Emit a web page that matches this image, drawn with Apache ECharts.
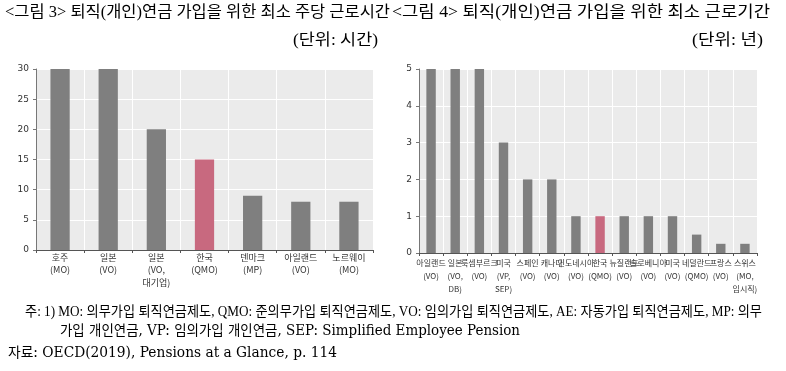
<!DOCTYPE html>
<html><head><meta charset="utf-8">
<script src="https://cdn.jsdelivr.net/npm/echarts@6/dist/echarts.min.js"></script>
<style>html,body{margin:0;padding:0;background:#fff}#c{width:786px;height:371px}</style>
</head><body><div id="c"></div>
<script>
var leftCategories = ['호주\n(MO)', '일본\n(VO)', '일본\n(VO,\n대기업)', '한국\n(QMO)', '덴마크\n(MP)', '아일랜드\n(VO)', '노르웨이\n(MO)'];
var leftValues = [30, 30, 20, 15, 9, 8, 8];
var rightCategories = ['아일랜드\n(VO)', '일본\n(VO,\nDB)', '룩셈부르크\n(VO)', '미국\n(VP,\nSEP)', '스페인\n(VO)', '캐나다\n(VO)', '인도네시아\n(VO)', '한국\n(QMO)', '뉴질랜드\n(VO)', '슬로베니아\n(VO)', '미국\n(VO)', '네덜란드\n(QMO)', '프랑스\n(VO)', '스위스\n(MO,\n임시직)'];
var rightValues = [5, 5, 5, 3, 2, 2, 1, 1, 1, 1, 1, 0.5, 0.25, 0.25];
var highlight = '한국';

var GRAY = '#7f7f7f', PINK = '#c8697f';
var CJK = "'Noto Sans CJK KR', sans-serif";
var SERIF = "'Liberation Serif', 'Noto Sans CJK KR', serif";
var WSERIF = "'DejaVu Serif', 'Noto Sans CJK KR', serif";

var mctx = document.createElement('canvas').getContext('2d');
function fitScale(text, font, target) {
  mctx.font = font;
  return target / mctx.measureText(text).width;
}
function txt(text, font, left, top, target) {
  var s = target ? fitScale(text, font, target) : 1;
  return { type: 'text', x: left, y: top, scaleX: s, style: { text: text, font: font, fill: '#000' } };
}

function colored(cats, vals) {
  return vals.map(function (v, i) {
    return { value: v, itemStyle: { color: cats[i].indexOf(highlight) === 0 ? PINK : GRAY } };
  });
}
function xAxis(idx, cats, fs, lh, margin) {
  return {
    type: 'category', gridIndex: idx, data: cats,
    axisLine: { show: true, lineStyle: { color: '#555', width: 1 } },
    axisTick: { show: true, length: 3, lineStyle: { color: '#555' } },
    axisLabel: { interval: 0, fontSize: fs, lineHeight: lh, color: '#333', fontFamily: CJK, margin: margin },
    splitLine: { show: true, lineStyle: { color: '#fff', width: 1 } }
  };
}
function yAxis(idx, max, interval) {
  return {
    type: 'value', gridIndex: idx, min: 0, max: max, interval: interval,
    axisLine: { show: true, lineStyle: { color: '#777', width: 1 } },
    axisTick: { show: true, length: 3, lineStyle: { color: '#777' } },
    axisLabel: { fontSize: 9, color: '#333', fontFamily: "'DejaVu Sans', sans-serif", margin: 7 },
    splitLine: { show: true, lineStyle: { color: '#fff', width: 1 } }
  };
}
var chart = echarts.init(document.getElementById('c'), null, { renderer: 'canvas' });
chart.setOption({
  animation: false,
  grid: [
    { left: 36, top: 69, width: 337, height: 181, show: true, backgroundColor: '#ebebeb', borderWidth: 0 },
    { left: 419, top: 69, width: 338, height: 184, show: true, backgroundColor: '#ebebeb', borderWidth: 0 }
  ],
  xAxis: [xAxis(0, leftCategories, 9, 12.5, 1), xAxis(1, rightCategories, 8, 13, 3)],
  yAxis: [yAxis(0, 30, 5), yAxis(1, 5, 1)],
  series: [
    { type: 'bar', xAxisIndex: 0, yAxisIndex: 0, data: colored(leftCategories, leftValues), barWidth: '40%' },
    { type: 'bar', xAxisIndex: 1, yAxisIndex: 1, data: colored(rightCategories, rightValues), barWidth: '39%' }
  ],
  graphic: [
    txt('<그림 3> 퇴직(개인)연금 가입을 위한 최소 주당 근로시간', '16px ' + SERIF, 5, 5, 385),
    txt('<그림 4> 퇴직(개인)연금 가입을 위한 최소 근로기간', '16px ' + SERIF, 392, 5, 378),
    txt('(단위: 시간)', '16px ' + SERIF, 293, 33, 85),
    txt('(단위: 년)', '16px ' + SERIF, 692, 33, 71),
    txt('주: 1) MO: 의무가입 퇴직연금제도, QMO: 준의무가입 퇴직연금제도, VO: 임의가입 퇴직연금제도, AE: 자동가입 퇴직연금제도, MP: 의무', '14px ' + SERIF, 25, 305, 737),
    txt('가입 개인연금, VP: 임의가입 개인연금, SEP: Simplified Employee Pension', '14px ' + WSERIF, 60, 324, 460),
    txt('자료: OECD(2019), Pensions at a Glance, p. 114', '14px ' + WSERIF, 8, 346, 329)
  ]
});
</script></body></html>
